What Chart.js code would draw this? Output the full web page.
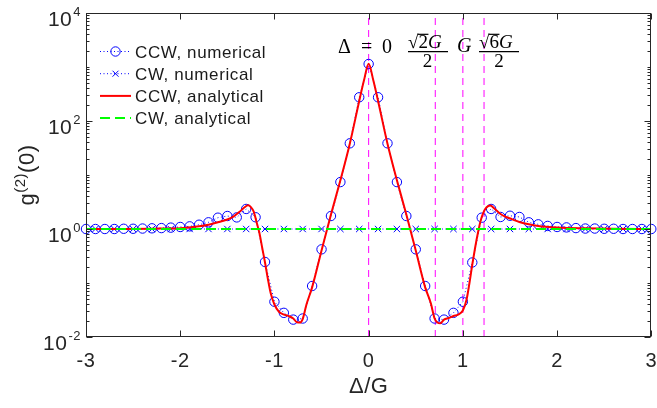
<!DOCTYPE html>
<html>
<head>
<meta charset="utf-8">
<script src="https://cdn.jsdelivr.net/npm/chart.js@4.4.1/dist/chart.umd.min.js"></script>
<style>
  html, body { margin: 0; padding: 0; background: #fff; }
  #wrap { width: 657px; height: 408px; }
</style>
</head>
<body>
<div id="wrap"><canvas id="g2" width="657" height="408"></canvas></div>
<script>
// detuning Δ/G for the numerical CCW run
const ccwNumX = [-3.0, -2.9, -2.8, -2.7, -2.6, -2.5, -2.4, -2.3, -2.2, -2.1,
  -2.0, -1.9, -1.8, -1.7, -1.6, -1.5, -1.4, -1.3, -1.2, -1.1,
  -1.0, -0.9, -0.8, -0.7, -0.6, -0.5, -0.4, -0.3, -0.2, -0.1,
  0.0,
  0.1, 0.2, 0.3, 0.4, 0.5, 0.6, 0.7, 0.8, 0.9, 1.0,
  1.1, 1.2, 1.3, 1.4, 1.5, 1.6, 1.7, 1.8, 1.9, 2.0,
  2.1, 2.2, 2.3, 2.4, 2.5, 2.6, 2.7, 2.8, 2.9, 3.0];
const ccwNumY = [1.00, 1.00, 1.00, 1.00, 1.01, 1.01, 1.02, 1.03, 1.04, 1.06,
  1.09, 1.12, 1.20, 1.33, 1.62, 1.74, 1.64, 2.35, 1.65, 0.245,
  0.045, 0.028, 0.021, 0.022, 0.088, 0.42, 1.74, 7.4, 38.6, 275,
  1137,
  275, 38.6, 7.4, 1.74, 0.42, 0.088, 0.022, 0.021, 0.028, 0.045,
  0.24, 1.62, 2.35, 1.67, 1.76, 1.67, 1.33, 1.22, 1.14, 1.09,
  1.07, 1.04, 1.02, 1.02, 1.01, 1.01, 1.00, 1.00, 1.00, 1.00];

// numerical CW run, sampled on the odd tenths
const cwNumX = [-2.9, -2.7, -2.5, -2.3, -2.1, -1.9, -1.7, -1.5, -1.3, -1.1,
  -0.9, -0.7, -0.5, -0.3, -0.1, 0.1, 0.3, 0.5, 0.7, 0.9,
  1.1, 1.3, 1.5, 1.7, 1.9, 2.1, 2.3, 2.5, 2.7, 2.9];
const cwNumY = [1, 1, 1, 1, 1, 1, 1, 1, 1, 1,
  1, 1, 1, 1, 1, 1, 1, 1, 1, 1,
  1, 1, 1, 1, 1, 1, 1, 1, 1, 1];

// analytical CCW curve
const ccwAnaX = [-3.0, -2.6, -2.3, -2.0, -1.8, -1.7, -1.6, -1.5, -1.44, -1.37,
  -1.32, -1.28, -1.25, -1.22, -1.19, -1.16, -1.13, -1.1, -1.07, -1.04,
  -1.0, -0.95, -0.9, -0.85, -0.8, -0.76, -0.73, -0.7, -0.66, -0.6,
  -0.5, -0.4, -0.3, -0.2, -0.1, -0.05, 0,
  0.05, 0.1, 0.2, 0.3, 0.4, 0.5, 0.6, 0.66, 0.7, 0.73,
  0.76, 0.8, 0.85, 0.9, 0.95, 1.0, 1.04, 1.07, 1.1, 1.13,
  1.16, 1.19, 1.22, 1.25, 1.29, 1.34, 1.4, 1.45, 1.52, 1.6,
  1.7, 1.8, 2.0, 2.3, 2.6, 3.0];
const ccwAnaY = [1.0, 1.005, 1.015, 1.035, 1.12, 1.2, 1.33, 1.5, 1.68, 2.08,
  2.5, 2.74, 2.55, 2.1, 1.35, 0.85, 0.45, 0.24, 0.12, 0.065,
  0.04, 0.029, 0.026, 0.0245, 0.022, 0.0187, 0.0185, 0.0215, 0.04, 0.083,
  0.40, 1.85, 8.0, 38, 235, 560, 1150,
  560, 235, 38, 8.0, 1.85, 0.40, 0.083, 0.042, 0.022, 0.0185,
  0.0179, 0.021, 0.0225, 0.0245, 0.026, 0.031, 0.05, 0.1, 0.22, 0.45,
  0.85, 1.45, 2.05, 2.5, 2.72, 2.35, 1.9, 1.7, 1.52, 1.35,
  1.22, 1.14, 1.07, 1.03, 1.01, 1.0];

// analytical CW curve is flat
const cwAnaX = [-3, 3];
const cwAnaY = [1, 1];

// special detunings marked with vertical lines: 0, √2G/2, G, √6G/2
const markX = [0, Math.SQRT2 / 2, 1, Math.sqrt(6) / 2];

const xTicks = [-3, -2, -1, 0, 1, 2, 3];
const yTickExp = [-2, 0, 2, 4];

const pts = (xs, ys) => xs.map((x, i) => ({ x, y: ys[i] }));

const SANS = '"Liberation Sans", Arial, Helvetica, sans-serif';
const SERIF = '"Liberation Serif", "DejaVu Serif", serif';
const AXIS_COLOR = '#262626';

const datasets = [
  {
    label: 'CW, analytical', data: pts(cwAnaX, cwAnaY), order: 0,
    borderColor: '#00ff00', borderWidth: 2, borderDash: [10, 5], pointRadius: 0
  },
  {
    label: 'CCW, analytical', data: pts(ccwAnaX, ccwAnaY), order: 1,
    borderColor: '#ff0000', borderWidth: 2, pointRadius: 0,
    cubicInterpolationMode: 'monotone'
  },
  {
    label: 'CW, numerical', data: pts(cwNumX, cwNumY), order: 2,
    borderColor: '#0000ff', borderWidth: 1, borderDash: [1, 2.5],
    pointStyle: 'crossRot', pointRadius: 4.5, pointBorderWidth: 1,
    pointBorderColor: '#0000ff', clip: false
  },
  {
    label: 'CCW, numerical', data: pts(ccwNumX, ccwNumY), order: 3,
    borderColor: '#0000ff', borderWidth: 1, borderDash: [1, 2.5],
    pointStyle: 'circle', pointRadius: 4.7, pointBorderWidth: 1,
    pointBorderColor: '#0000ff', pointBackgroundColor: 'rgba(0,0,0,0)', clip: false
  }
];
markX.forEach(v => datasets.push({
  label: 'mark', data: [{ x: v, y: 1e-2 }, { x: v, y: 1e4 }], order: 4,
  borderColor: '#ff00ff', borderWidth: 1, borderDash: [7, 5], pointRadius: 0
}));

// frame, inward ticks and tick labels in the MATLAB style
const frame = {
  id: 'frame',
  afterDatasetsDraw(chart) {
    const { ctx, chartArea: a, scales: { x, y } } = chart;
    ctx.save();
    ctx.strokeStyle = AXIS_COLOR;
    ctx.lineWidth = 1;
    const L = Math.round(a.left) + 0.5, R = Math.round(a.right) - 0.5;
    const T = Math.round(a.top) + 0.5, B = Math.round(a.bottom) - 0.5;
    ctx.strokeRect(L, T, R - L, B - T);

    ctx.beginPath();
    xTicks.forEach(v => {
      const px = Math.round(x.getPixelForValue(v)) + 0.5;
      ctx.moveTo(px, B); ctx.lineTo(px, B - 6);
      ctx.moveTo(px, T); ctx.lineTo(px, T + 6);
    });
    for (let e = -2; e < 4; e++) {
      for (let m = 1; m < 10; m++) {
        const v = m * Math.pow(10, e);
        const py = Math.round(y.getPixelForValue(v)) + 0.5;
        const len = (m === 1 && e % 2 === 0) ? 6 : 3;
        ctx.moveTo(L, py); ctx.lineTo(L + len, py);
        ctx.moveTo(R, py); ctx.lineTo(R - len, py);
      }
    }
    ctx.stroke();

    ctx.fillStyle = AXIS_COLOR;
    ctx.letterSpacing = '0.5px';
    ctx.font = '20px ' + SANS;
    ctx.textAlign = 'center';
    ctx.textBaseline = 'alphabetic';
    xTicks.forEach(v => ctx.fillText(String(v), x.getPixelForValue(v), a.bottom + 30));

    yTickExp.forEach(e => {
      const py = y.getPixelForValue(Math.pow(10, e));
      ctx.font = '13px ' + SANS;
      ctx.textAlign = 'right';
      const ex = String(e);
      const ew = ctx.measureText(ex).width;
      ctx.fillText(ex, 81, py + 3);
      ctx.font = '21px ' + SANS;
      ctx.fillText('10', 81 - ew - 1, py + 13);
    });

    // axis titles
    ctx.textAlign = 'center';
    ctx.font = '22px ' + SANS;
    ctx.fillText('Δ/G', (a.left + a.right) / 2, 393);

    ctx.save();
    ctx.translate(34, (a.top + a.bottom) / 2);
    ctx.rotate(-Math.PI / 2);
    ctx.textAlign = 'left';
    ctx.font = '22px ' + SANS;
    const wg = ctx.measureText('g').width;
    const w0 = ctx.measureText('(0)').width;
    ctx.font = '15px ' + SANS;
    const w2 = ctx.measureText('(2)').width;
    let cx = -(wg + w2 + w0) / 2;
    ctx.font = '22px ' + SANS;
    ctx.fillText('g', cx, 0); cx += wg;
    ctx.font = '15px ' + SANS;
    ctx.fillText('(2)', cx, -9); cx += w2;
    ctx.font = '22px ' + SANS;
    ctx.fillText('(0)', cx, 0);
    ctx.restore();

    ctx.restore();
  }
};

// legend in the upper left corner
const legendRows = [
  { text: 'CCW, numerical', kind: 'circle' },
  { text: 'CW, numerical', kind: 'cross' },
  { text: 'CCW, analytical', kind: 'red' },
  { text: 'CW, analytical', kind: 'green' }
];
const legend = {
  id: 'legendBox',
  afterDatasetsDraw(chart) {
    const { ctx } = chart;
    ctx.save();
    legendRows.forEach((row, i) => {
      const yc = 51.5 + i * 22.2;
      ctx.beginPath();
      if (row.kind === 'circle' || row.kind === 'cross') {
        ctx.strokeStyle = '#0000ff'; ctx.lineWidth = 1; ctx.setLineDash([1, 2.5]);
      } else if (row.kind === 'red') {
        ctx.strokeStyle = '#ff0000'; ctx.lineWidth = 2; ctx.setLineDash([]);
      } else {
        ctx.strokeStyle = '#00ff00'; ctx.lineWidth = 2; ctx.setLineDash([10, 5]);
      }
      ctx.moveTo(100, yc); ctx.lineTo(131, yc);
      ctx.stroke();
      ctx.setLineDash([]);
      ctx.lineWidth = 1;
      ctx.strokeStyle = '#0000ff';
      if (row.kind === 'circle') {
        ctx.beginPath(); ctx.arc(115.5, yc, 4.7, 0, Math.PI * 2); ctx.stroke();
      } else if (row.kind === 'cross') {
        ctx.beginPath();
        ctx.moveTo(112.5, yc - 3); ctx.lineTo(118.5, yc + 3);
        ctx.moveTo(118.5, yc - 3); ctx.lineTo(112.5, yc + 3);
        ctx.stroke();
      }
      ctx.fillStyle = '#1a1a1a';
      ctx.letterSpacing = '0.6px';
      ctx.font = '17px ' + SANS;
      ctx.textAlign = 'left';
      ctx.textBaseline = 'alphabetic';
      ctx.fillText(row.text, 135, yc + 6);
    });
    ctx.restore();
  }
};

// labels over the vertical marker lines
function radical(ctx, x0, base, digit, size) {
  ctx.font = size + 'px ' + SERIF;
  ctx.fillText('√', x0, base);
  const rw = ctx.measureText('√').width;
  ctx.fillText(digit, x0 + rw, base);
  const dw = ctx.measureText(digit).width;
  ctx.beginPath();
  ctx.moveTo(x0 + rw - 0.5, base - size * 0.72);
  ctx.lineTo(x0 + rw + dw + 0.5, base - size * 0.72);
  ctx.stroke();
  ctx.font = 'italic ' + size + 'px ' + SERIF;
  ctx.fillText('G', x0 + rw + dw, base);
}
const notes = {
  id: 'notes',
  afterDatasetsDraw(chart) {
    const { ctx } = chart;
    ctx.save();
    ctx.fillStyle = '#000';
    ctx.strokeStyle = '#000';
    ctx.lineWidth = 1.2;
    ctx.textBaseline = 'alphabetic';
    ctx.textAlign = 'left';
    ctx.font = '20px ' + SERIF;
    ctx.fillText('Δ', 338, 52.5);
    ctx.fillText('=', 361, 52.5);
    ctx.fillText('0', 382, 52.5);

    // √2G/2
    radical(ctx, 408, 48, '2', 19);
    ctx.beginPath(); ctx.moveTo(408, 51.7); ctx.lineTo(448, 51.7); ctx.stroke();
    ctx.font = '19px ' + SERIF;
    ctx.textAlign = 'center';
    ctx.fillText('2', 427.5, 66.5);

    ctx.textAlign = 'left';
    ctx.font = 'italic 20px ' + SERIF;
    ctx.fillText('G', 457, 52);

    // √6G/2
    radical(ctx, 479, 48, '6', 19);
    ctx.beginPath(); ctx.moveTo(479, 51.7); ctx.lineTo(519, 51.7); ctx.stroke();
    ctx.font = '19px ' + SERIF;
    ctx.textAlign = 'center';
    ctx.fillText('2', 499, 66.5);
    ctx.restore();
  }
};

new Chart(document.getElementById('g2'), {
  type: 'line',
  data: { datasets },
  options: {
    responsive: false,
    devicePixelRatio: 1,
    animation: false,
    layout: { padding: { left: 86, top: 13, right: 4, bottom: 71 } },
    elements: { line: { tension: 0 } },
    plugins: { legend: { display: false }, tooltip: { enabled: false } },
    scales: {
      x: { type: 'linear', min: -3, max: 3, display: false },
      y: { type: 'logarithmic', min: 1e-2, max: 1e4, display: false }
    }
  },
  plugins: [frame, legend, notes]
});
</script>
</body>
</html>
